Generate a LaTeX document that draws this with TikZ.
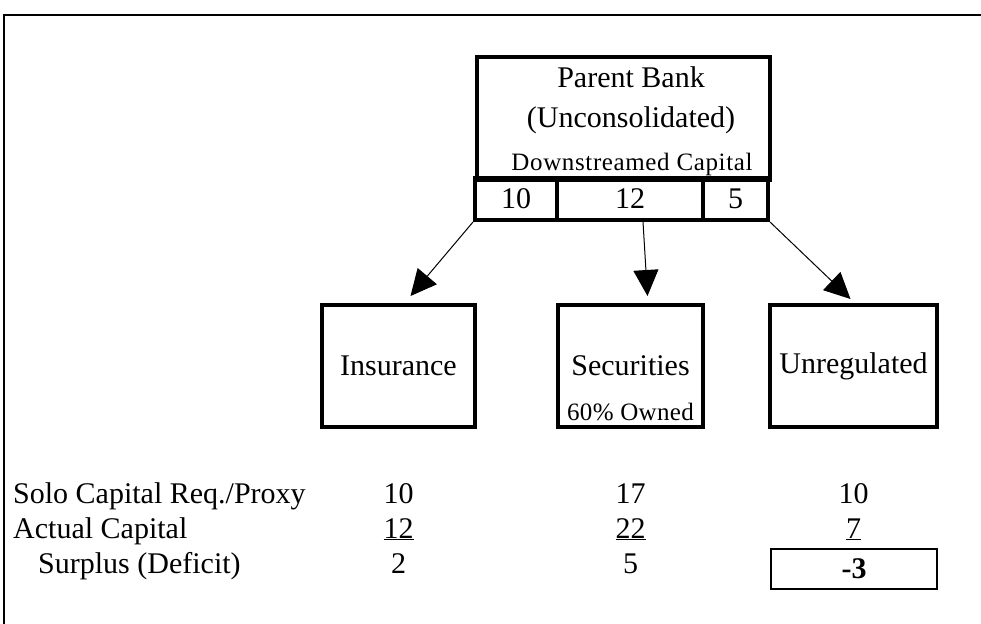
\documentclass[tikz,border=0pt]{standalone}
\usepackage{fontspec}
\setmainfont{Liberation Serif}
\usetikzlibrary{arrows.meta}

\begin{document}
\begin{tikzpicture}
  [x=1pt,y=-1pt,
   every node/.style={font=\fontsize{30}{36}\selectfont,inner sep=0pt},
   small/.style={font=\fontsize{25}{30}\selectfont},
   box/.style={draw,line width=4pt,minimum height=122pt},
   cell/.style={draw,line width=4pt,minimum height=42pt},
   link/.style={line width=1pt,-{Triangle[length=26pt,width=25pt]}}]
    \useasboundingbox (0,0) rectangle (981,623);
    \clip (0,0) rectangle (981,623);
    \draw[line width=2.5pt] (995,15) -- (4,15) -- (4,635);

    % parent bank
    \node (p) [draw,line width=4pt,minimum width=293pt,minimum height=123pt,anchor=north west] at (475,55) {};
    \node (pname) [anchor=base] at (631,88)  {Parent Bank};
    \node (punc)  [anchor=base] at (631,127) {(Unconsolidated)};
    \node (pdown) [small,anchor=base] at (632,170) {\addfontfeature{LetterSpace=2.5}Downstreamed Capital};
    \node (c10) [cell,minimum width=82pt]  at (516,199)   {10};
    \node (c12) [cell,minimum width=146pt] at (630,199)   {12};
    \node (c5)  [cell,minimum width=65pt]  at (735.5,199) {5};

    % subsidiaries
    \node (ins) [box,minimum width=153pt] at (398.5,366) {Insurance};
    \node (sec) [box,minimum width=145pt] at (630.5,366) {Securities};
    \node (own) [small,anchor=base] at (630.5,420) {\addfontfeature{LetterSpace=1.5}60\% Owned};
    \node (unr) [box,minimum width=167pt] at (853.5,366) {Unregulated};

    \draw[link] (c10.south west) -- ([shift={(12,-7)}]ins.north);
    \draw[link] ([shift={(13,0)}]c12.south) -- ([shift={(17,-7)}]sec.north);
    \draw[link] (c5.south east) -- ([shift={(-3,-4)}]unr.north);

    % capital table
    \node (solo) [anchor=base west] at (13,503) {Solo Capital Req./Proxy};
    \node (act)  [anchor=base west] at (13,538) {Actual Capital};
    \node (sur)  [anchor=base west] at (38,573) {Surplus (Deficit)};

    \node (reqi) [anchor=base] at (398.5,503) {10};
    \node (acti) [anchor=base] at (398.5,538) {\underline{12}};
    \node (suri) [anchor=base] at (398.5,573) {2};
    \node (reqs) [anchor=base] at (630.5,503) {17};
    \node (acts) [anchor=base] at (630.5,538) {\underline{22}};
    \node (surs) [anchor=base] at (630.5,573) {5};
    \node (requ) [anchor=base] at (853.5,503) {10};
    \node (actu) [anchor=base] at (853.5,538) {\underline{7}};
    \node (def)  [draw,line width=2pt,minimum width=166pt,minimum height=40pt,
                  font=\bfseries\fontsize{30}{36}\selectfont] at (854,569) {-3};
  \end{tikzpicture}
\end{document}
